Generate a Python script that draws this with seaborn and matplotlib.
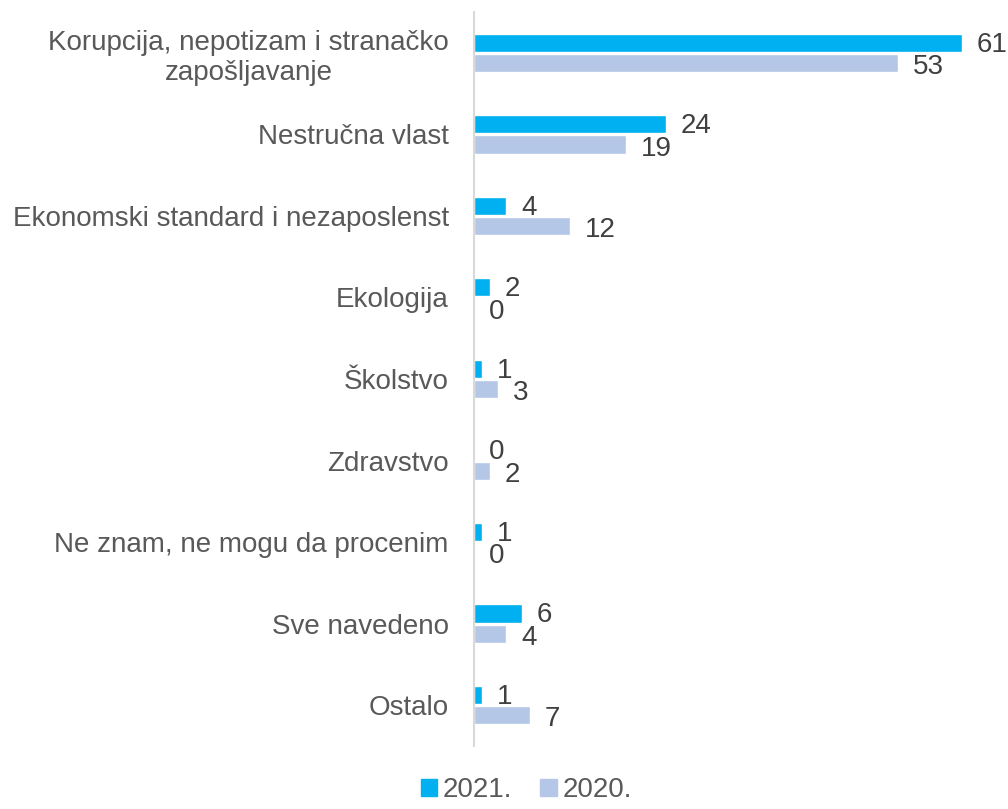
import numpy as np
import pandas as pd
import matplotlib
matplotlib.use('Agg')
import matplotlib.pyplot as plt
import seaborn as sns

# data
categories = ["Korupcija, nepotizam i stranačko\nzapošljavanje", "Nestručna vlast",
              "Ekonomski standard i nezaposlenst", "Ekologija", "Školstvo", "Zdravstvo",
              "Ne znam, ne mogu da procenim", "Sve navedeno", "Ostalo"]
v2021 = [61, 24, 4, 2, 1, 0, 1, 6, 1]
v2020 = [53, 19, 12, 0, 3, 2, 0, 4, 7]
years = ["2021.", "2020."]
colors = ["#00B0F0", "#B4C7E7"]

df = pd.DataFrame({
    "kategorija": categories * 2,
    "vrednost": v2021 + v2020,
    "godina": [years[0]] * len(categories) + [years[1]] * len(categories),
})

sns.set_style("white")
plt.rcParams['font.family'] = ['Liberation Sans', 'DejaVu Sans']

fig = plt.figure(figsize=(10.08, 8.09), dpi=100)
ax = fig.add_axes([0.470, 0.078, 0.504, 0.907])

sns.barplot(data=df, y="kategorija", x="vrednost", hue="godina", hue_order=years,
            order=categories, palette=colors, orient="h", width=0.5, gap=0.1,
            ax=ax, legend=False, saturation=1)

# value labels, nudged a little down like in the original
for cont, dy in zip(ax.containers, [-1.5, -3.0]):
    txts = ax.bar_label(cont, labels=[f"{int(b.get_width())}" for b in cont],
                        padding=11, fontsize=20, color="#404040")
    for t in txts:
        t.xyann = (t.xyann[0], t.xyann[1] + dy)

ax.set_xlim(0, 63.5)
ax.set_ylim(8.5, -0.5)
ax.set_xlabel("")
ax.set_ylabel("")
ax.set_xticks([])
ax.tick_params(axis="y", length=0, pad=18, labelsize=20, labelcolor="#595959")
for lab in ax.get_yticklabels():
    lab.set_multialignment("center")
for s in ["top", "right", "bottom"]:
    ax.spines[s].set_visible(False)
ax.spines["left"].set_color("#D9D9D9")
ax.spines["left"].set_linewidth(1.5)

handles = [plt.Rectangle((0, 0), 1, 1, color=c) for c in colors]
fig.legend(handles, years, loc="lower center", bbox_to_anchor=(0.522, -0.024), ncol=2,
           frameon=False, fontsize=20, labelcolor="#595959", handlelength=0.6,
           handleheight=0.6, handletextpad=0.2, columnspacing=1.0)

fig.savefig("out.png", dpi=100)
